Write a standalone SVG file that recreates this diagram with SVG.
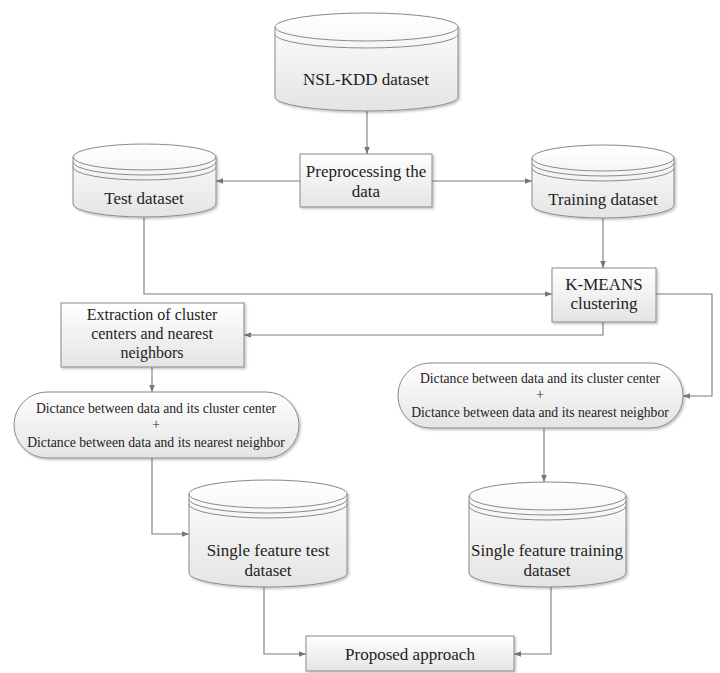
<svg xmlns="http://www.w3.org/2000/svg" width="720" height="673" viewBox="0 0 720 673">
<defs>
<linearGradient id="g" x1="0" y1="0" x2="0" y2="1">
<stop offset="0" stop-color="#ffffff"/>
<stop offset="1" stop-color="#e4e4e4"/>
</linearGradient>
<filter id="sh" x="-10%" y="-10%" width="125%" height="130%">
<feDropShadow dx="1.5" dy="1.5" stdDeviation="1" flood-color="#000" flood-opacity="0.25"/>
</filter>
<marker id="ah" viewBox="0 0 10 10" refX="10" refY="5" markerWidth="7" markerHeight="7" markerUnits="userSpaceOnUse" orient="auto">
<path d="M0,1 L10,5 L0,9 Z" fill="#777"/>
</marker>
<style>
.shape{fill:url(#g);stroke:#8a8a8a;stroke-width:1;filter:url(#sh)}
.line{fill:none;stroke:#8a8a8a;stroke-width:1}
.conn{fill:none;stroke:#7a7a7a;stroke-width:1.1;marker-end:url(#ah)}
text{font-family:"Liberation Serif","Times New Roman","DejaVu Serif",serif;fill:#1e1e1e;text-anchor:middle}
.t17{font-size:17px}
.t16{font-size:16px}
.t13{font-size:13.7px}
</style>
</defs>
<rect width="720" height="673" fill="#fff"/>

<g id="connectors">
<path class="conn" d="M367,111 V154"/>
<path class="conn" d="M300,181 H216"/>
<path class="conn" d="M432,181 H532"/>
<path class="conn" d="M603,218 V268"/>
<path class="conn" d="M144,217 V294 H552"/>
<path class="conn" d="M603,322 V335 H244"/>
<path class="conn" d="M656,294 H712 V396 H683"/>
<path class="conn" d="M152,367 V392"/>
<path class="conn" d="M152,458 V534 H189"/>
<path class="conn" d="M544,428 V482"/>
<path class="conn" d="M264,587 V654 H306"/>
<path class="conn" d="M551,587 V654 H514"/>
</g>

<g id="nsl-kdd">
<path class="shape" d="M275,27 A91.5,14 0 0 1 458,27 V97 A91.5,14 0 0 1 275,97 Z"/>
<path class="line" d="M275,27 A91.5,14 0 0 0 458,27 M275,34 A91.5,14 0 0 0 458,34"/>
<text class="t17" x="366" y="85">NSL-KDD dataset</text>
</g>

<g id="preprocessing">
<rect class="shape" x="300" y="154" width="132" height="53"/>
<text class="t17" x="366" y="177">Preprocessing the</text>
<text class="t17" x="366" y="197">data</text>
</g>

<g id="test-dataset">
<path class="shape" d="M73,157 A71.5,13 0 0 1 216,157 V204 A71.5,13 0 0 1 73,204 Z"/>
<path class="line" d="M73,157 A71.5,13 0 0 0 216,157 M73,162 A71.5,13 0 0 0 216,162 M73,167 A71.5,13 0 0 0 216,167"/>
<text class="t17" x="144" y="204">Test dataset</text>
</g>

<g id="training-dataset">
<path class="shape" d="M532,158 A71,13 0 0 1 674,158 V205 A71,13 0 0 1 532,205 Z"/>
<path class="line" d="M532,158 A71,13 0 0 0 674,158 M532,163 A71,13 0 0 0 674,163 M532,168 A71,13 0 0 0 674,168"/>
<text class="t17" x="603" y="205">Training dataset</text>
</g>

<g id="kmeans">
<rect class="shape" x="552" y="268" width="104" height="54"/>
<text class="t17" x="604" y="290">K-MEANS</text>
<text class="t17" x="604" y="309">clustering</text>
</g>

<g id="extraction">
<rect class="shape" x="61" y="303" width="183" height="64"/>
<text class="t16" x="152" y="320">Extraction of cluster</text>
<text class="t16" x="152" y="339">centers and nearest</text>
<text class="t16" x="152" y="358">neighbors</text>
</g>

<g id="distance-left">
<rect class="shape" x="14" y="392" width="285" height="66" rx="33" ry="33"/>
<text class="t13" x="156" y="413">Dictance between data and its cluster center</text>
<text class="t13" x="156" y="429">+</text>
<text class="t13" x="156" y="447">Dictance between data and its nearest neighbor</text>
</g>

<g id="distance-right">
<rect class="shape" x="398" y="363" width="285" height="65" rx="32" ry="32"/>
<text class="t13" x="540" y="383">Dictance between data and its cluster center</text>
<text class="t13" x="540" y="399">+</text>
<text class="t13" x="540" y="417">Dictance between data and its nearest neighbor</text>
</g>

<g id="single-test">
<path class="shape" d="M189,494 A79,14 0 0 1 347,494 V573 A79,14 0 0 1 189,573 Z"/>
<path class="line" d="M189,494 A79,14 0 0 0 347,494 M189,499 A79,14 0 0 0 347,499 M189,504 A79,14 0 0 0 347,504"/>
<text class="t17" x="268" y="556">Single feature test</text>
<text class="t17" x="268" y="576">dataset</text>
</g>

<g id="single-training">
<path class="shape" d="M469,496 A78.5,14 0 0 1 626,496 V573 A78.5,14 0 0 1 469,573 Z"/>
<path class="line" d="M469,496 A78.5,14 0 0 0 626,496 M469,501 A78.5,14 0 0 0 626,501 M469,506 A78.5,14 0 0 0 626,506"/>
<text class="t17" x="547" y="556">Single feature training</text>
<text class="t17" x="547" y="576">dataset</text>
</g>

<g id="proposed">
<rect class="shape" x="306" y="636" width="208" height="35"/>
<text class="t17" x="410" y="660">Proposed approach</text>
</g>
</svg>
